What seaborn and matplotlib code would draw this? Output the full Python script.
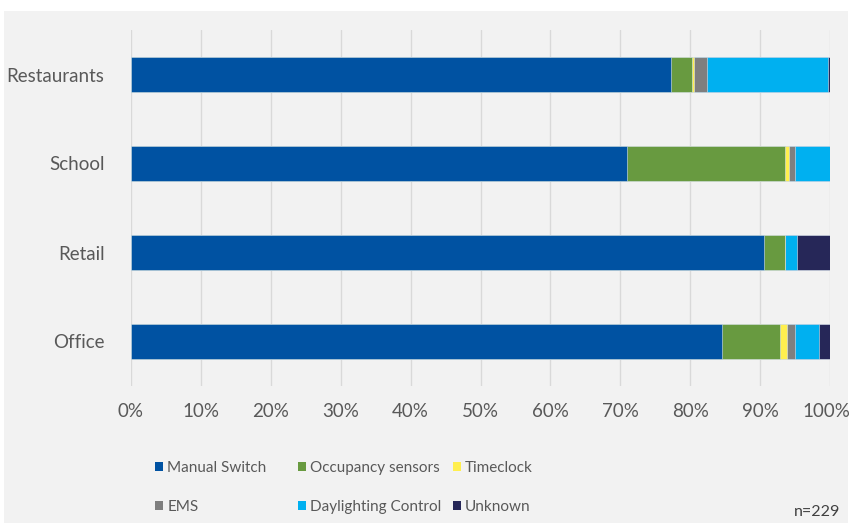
import numpy as np
import pandas as pd
import matplotlib
matplotlib.use("Agg")
import matplotlib.pyplot as plt
import matplotlib.transforms as mtransforms
from matplotlib.patches import Patch, Rectangle
from matplotlib.ticker import PercentFormatter
import seaborn as sns

# data (percent of respondents per building type)
categories = ["Restaurants", "School", "Retail", "Office"]
series = ["Manual Switch", "Occupancy sensors", "Timeclock",
          "EMS", "Daylighting Control", "Unknown"]
manual_switch = [77.3, 71.0, 90.6, 84.5]
occupancy = [3.0, 22.6, 3.0, 8.4]
timeclock = [0.3, 0.5, 0.0, 1.0]
ems = [1.8, 0.9, 0.0, 1.1]
daylighting = [17.3, 5.0, 1.7, 3.4]
unknown = [0.3, 0.0, 4.7, 1.6]
colors = ["#0052A2", "#689A40", "#FFEF4F", "#7F7F7F", "#00B0F0", "#262758"]

sns.set_style("white")
plt.rcParams["font.family"] = ["Lato", "DejaVu Sans"]

df = pd.DataFrame({"Building": categories,
                   "Manual Switch": manual_switch,
                   "Occupancy sensors": occupancy,
                   "Timeclock": timeclock,
                   "EMS": ems,
                   "Daylighting Control": daylighting,
                   "Unknown": unknown})
cum = df[series].cumsum(axis=1)
cum["Building"] = df["Building"]

W, H = 852, 523
fig = plt.figure(figsize=(W / 100, H / 100), dpi=100, facecolor="white")
# light grey chart area like the original
fig.patches.append(Rectangle((4 / W, 0), 844 / W, 1 - 11 / H,
                             transform=fig.transFigure, facecolor="#F2F2F2",
                             edgecolor="none", zorder=-5))
ax = fig.add_axes([131 / W, 137 / H, 699 / W, 356 / H])
ax.set_facecolor("#F2F2F2")

# stacked bars: draw cumulative totals from the outermost segment inward
for name, col in reversed(list(zip(series, colors))):
    sns.barplot(data=cum, x=name, y="Building", order=categories,
                color=col, orient="h", width=0.4, saturation=1,
                edgecolor="#DCE6F0", linewidth=0.4, ax=ax, zorder=3)

ax.set_xlim(0, 100)
ax.set_xticks(np.arange(0, 101, 10))
ax.xaxis.set_major_formatter(PercentFormatter(decimals=0))
ax.grid(axis="x", color="#D9D9D9", linewidth=1, zorder=0)
ax.set_axisbelow(True)
for s in ax.spines.values():
    s.set_visible(False)
ax.set_xlabel("")
ax.set_ylabel("")
ax.tick_params(axis="both", length=0, labelsize=13.5, labelcolor="#595959")
ax.tick_params(axis="x", pad=12)
ax.tick_params(axis="y", pad=19)

# nudge the 100% label a little so it stays inside the picture
last = ax.get_xticklabels()[-1]
last.set_transform(last.get_transform() +
                   mtransforms.ScaledTranslation(-4 / 100, 0, fig.dpi_scale_trans))

# legend entries laid out like the Excel legend (not column aligned)
legend_pos = [(155, 468), (298, 468), (453, 468),
              (155, 507), (298, 507), (453, 507)]
for name, col, (px, py) in zip(series, colors, legend_pos):
    fig.legend(handles=[Patch(facecolor=col, edgecolor="none", label=name)],
               loc="center left", bbox_to_anchor=(px / W, 1 - py / H),
               frameon=False, fontsize=11, labelcolor="#595959",
               handlelength=0.55, handleheight=0.55, handletextpad=0.25,
               borderpad=0, borderaxespad=0)

fig.text(840 / W, 1 - 512 / H, "n=229", ha="right", va="center",
         fontsize=11.5, color="#404040")

fig.savefig("out.png", dpi=100, facecolor=fig.get_facecolor())
